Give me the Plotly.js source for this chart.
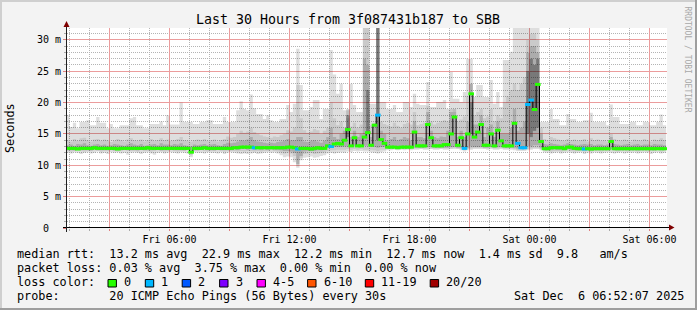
<!DOCTYPE html>
<html><head><meta charset="utf-8">
<script src="https://cdn.plot.ly/plotly-3.0.1.min.js"></script>
<style>html,body{margin:0;padding:0;background:#f3f3f3}</style>
</head><body><div id="chart" style="width:697px;height:310px"></div>
<script>
// ---------- DATA (10-minute steps starting Fri 2025-12-05 00:50) ----------
const stepStart = '2025-12-05T00:50:00Z';
const stepMinutes = 10;

const median = [
12.7,12.7,12.7,12.6,12.7,12.7,12.7,12.7,12.8,12.7,
12.7,12.7,12.7,12.7,12.7,12.6,12.7,12.7,12.7,12.7,
12.7,12.7,12.7,12.7,12.8,12.7,12.7,12.7,12.7,12.7,
12.7,12.7,12.7,12.7,12.7,12.7,12.7,12.1,12.7,12.7,
12.7,12.8,12.7,12.7,12.7,12.7,12.7,12.7,12.7,12.7,
12.8,12.8,12.9,12.9,12.9,12.9,12.8,12.8,12.8,12.8,
12.8,12.8,12.8,12.8,12.8,12.8,12.9,12.9,12.8,12.6,
12.7,12.7,12.7,12.6,12.7,12.8,12.7,12.7,13.1,13.0,
13.4,13.5,13.4,14.0,15.7,13.1,14.4,13.1,13.1,14.5,
15.2,13.2,16.4,18.0,14.1,13.5,12.9,12.9,12.9,12.8,
12.9,12.9,12.9,12.9,15.3,13.1,13.1,13.1,16.5,14.4,
13.1,13.1,13.1,13.3,13.3,15.0,17.7,13.2,14.4,12.7,
15.0,21.4,14.5,15.3,16.5,13.2,13.2,15.0,13.1,15.6,
13.9,13.1,13.1,13.1,16.7,13.5,12.8,12.8,19.7,20.4,
18.9,22.9,13.8,12.65,12.65,12.8,12.8,12.8,12.8,12.65,
12.9,12.9,12.7,12.65,12.65,12.6,12.65,12.6,12.65,12.65,
12.65,12.65,12.65,13.8,12.65,12.65,12.65,12.65,12.65,12.65,
12.65,12.65,12.65,12.65,12.65,12.65,12.65,12.65,12.65,12.65];

const lossCount = [
0,0,0,0,0,0,0,0,0,0, 0,0,0,0,0,0,0,0,0,0,
0,0,0,0,0,0,0,0,0,0, 0,0,0,0,0,0,0,0,0,0,
0,0,0,0,0,0,0,0,0,0, 0,0,0,0,0,0,1,0,0,0,
0,0,0,0,0,0,0,0,0,1, 0,0,0,0,0,0,0,0,0,1,
0,0,0,0,0,0,0,0,0,0, 0,0,0,1,0,0,0,0,0,0,
0,0,0,0,0,0,0,0,0,0, 0,0,0,0,0,0,0,0,0,1,
0,0,0,0,0,0,0,0,0,0, 0,0,0,0,0,1,1,1,1,1,
0,0,0,0,0,0,0,0,0,0, 0,0,0,0,0,1,0,0,0,0,
0,0,0,0,0,0,0,0,0,0, 0,0,0,0,0,0,0,0,0,0];

// smoke: outer (min..max), middle, inner bands
const smokeMin = [
12.0,11.9,12.1,12.0,11.8,12.0,12.1,11.9,12.0,12.2,
11.9,12.0,11.8,12.1,12.0,12.1,11.9,12.0,11.7,12.0,
12.1,12.0,11.8,12.0,12.1,11.9,11.7,12.0,12.1,11.9,
12.0,12.1,12.0,11.9,12.1,12.0,11.9,11.3,12.1,12.0,
12.0,11.9,12.1,12.0,12.0,11.9,12.1,11.8,12.0,12.1,
12.0,11.9,11.8,11.9,11.8,11.9,12.0,11.8,11.9,12.0,
12.1,12.0,12.1,11.9,11.6,11.3,11.4,11.3,10.5,9.6,
10.8,11.2,11.3,11.4,11.2,11.3,11.5,11.6,11.9,12.0,
11.9,12.0,12.1,12.0,12.2,12.1,12.3,12.2,12.3,12.2,
12.2,12.1,12.0,11.9,12.1,12.2,12.4,12.4,12.5,12.4,
12.5,12.4,12.5,12.4,12.5,12.5,12.6,12.5,12.5,12.6,
12.5,12.5,12.6,12.5,12.5,12.6,12.6,12.6,12.4,12.2,
12.4,12.5,12.6,12.6,12.6,12.6,12.5,12.6,12.5,12.5,
12.6,12.5,12.5,12.5,12.4,12.3,12.3,12.3,12.4,12.5,
12.6,12.6,12.4,12.1,12.0,11.9,12.0,12.1,11.9,12.0,
12.1,12.0,11.9,12.0,12.1,11.8,12.0,11.9,12.1,12.0,
11.9,12.0,12.1,12.0,11.9,12.0,12.1,11.9,12.0,12.0,
12.1,11.9,12.0,12.1,12.0,11.8,12.0,12.1,11.9,12.0];

const smokeMax = [
18.0,16.1,16.8,15.9,16.9,16.9,17.2,16.4,16.4,17.7,
16.8,16.8,15.9,16.6,15.9,15.9,16.4,16.4,16.4,17.5,
17.7,16.4,16.4,15.9,15.9,16.6,16.6,16.6,17.0,16.4,
18.0,16.5,16.5,16.5,20.0,16.9,16.9,16.9,16.6,16.6,
16.9,16.9,17.2,17.2,16.6,16.6,16.6,17.7,16.9,16.9,
16.9,18.8,20.2,19.0,18.8,21.3,19.1,18.2,18.2,17.4,
18.0,17.2,16.9,16.9,17.4,17.4,19.6,18.5,19.8,28.6,
22.8,18.8,18.8,19.3,20.4,20.4,17.4,19.0,19.0,28.4,
24.5,21.4,23.0,18.8,18.8,23.0,19.6,18.5,18.5,33,
33,19.8,19.8,33,20.1,20.1,19.0,19.0,19.6,18.5,
18.5,20.1,20.1,19.3,21.4,19.8,19.6,19.6,23.3,19.3,
19.3,20.1,20.1,20.4,19.0,24.9,20.6,20.6,20.1,21.7,
27.0,27.0,20.9,22.8,22.8,20.9,20.9,23.6,19.8,21.7,
19.3,26.8,26.8,28.1,33,33,33,33,33,33,
33,33,16.9,16.9,16.9,19.0,17.4,17.4,16.4,16.4,
18.2,17.4,17.4,16.9,16.9,17.2,17.2,18.4,16.9,16.9,
16.9,16.9,16.4,19.7,17.7,17.7,16.6,16.6,16.6,16.9,
16.9,16.4,16.4,16.9,16.9,16.4,16.4,16.9,18.1,16.4];

const smokeMidLo = [
12.3,12.2,12.3,12.4,12.3,12.2,12.3,12.3,12.4,12.3,
12.2,12.3,12.3,12.4,12.3,12.2,12.3,12.4,12.3,12.3,
12.3,12.2,12.4,12.3,12.3,12.2,12.3,12.4,12.3,12.2,
12.3,12.4,12.3,12.2,12.3,12.3,12.4,11.6,12.3,12.3,
12.4,12.3,12.2,12.3,12.3,12.4,12.3,12.2,12.3,12.3,
12.3,12.2,12.3,12.2,12.3,12.3,12.2,12.3,12.2,12.3,
12.3,12.4,12.3,12.2,12.1,11.9,12.0,11.9,11.5,10.0,
11.2,11.8,11.9,12.0,11.8,11.9,12.0,12.1,12.3,12.4,
12.4,12.5,12.5,12.5,12.6,12.5,12.6,12.5,12.6,12.5,
12.5,12.5,12.4,12.3,12.5,12.5,12.6,12.6,12.7,12.6,
12.7,12.6,12.7,12.6,12.7,12.7,12.7,12.7,12.7,12.7,
12.7,12.7,12.7,12.7,12.7,12.7,12.8,12.7,12.6,12.5,
12.6,12.7,12.8,12.8,12.8,12.7,12.7,12.8,12.7,12.7,
12.8,12.7,12.7,12.7,12.6,12.5,12.5,12.5,12.6,12.7,
12.8,12.8,12.6,12.3,12.3,12.2,12.3,12.3,12.2,12.3,
12.4,12.3,12.2,12.3,12.3,12.2,12.3,12.2,12.3,12.3,
12.2,12.3,12.3,12.4,12.3,12.2,12.3,12.3,12.2,12.3,
12.3,12.2,12.3,12.3,12.2,12.3,12.3,12.4,12.2,12.3];

const smokeMidHi = [
14.0,13.8,14.2,13.9,14.3,14.4,14.0,13.8,14.1,14.2,
13.9,14.1,14.0,13.7,13.9,14.2,14.0,13.8,14.1,14.3,
14.0,13.9,14.1,13.8,14.0,14.2,13.9,14.0,14.3,14.0,
14.1,13.9,14.0,14.2,14.5,14.0,13.9,13.8,14.0,14.1,
14.0,14.2,13.9,14.0,14.1,13.8,14.0,14.2,14.6,14.4,
14.5,15.0,15.5,15.2,15.4,16.0,15.3,15.0,14.8,14.6,
14.5,14.4,14.6,14.5,14.8,15.0,15.6,15.4,16.0,22.8,
17.5,15.6,15.2,15.4,15.8,15.6,15.0,15.5,16.0,20.0,
17.5,16.4,17.0,16.0,17.5,16.2,16.8,16.0,16.5,33,
33,16.4,16.8,33,17.0,16.6,16.4,16.2,16.8,16.3,
16.0,16.6,16.8,16.5,18.5,16.4,16.6,16.8,19.5,17.0,
16.5,16.8,17.0,17.2,17.0,19.0,18.5,17.0,17.3,17.8,
21.0,23.0,18.0,18.5,19.0,17.5,17.8,19.0,17.0,18.0,
17.5,20.0,21.0,22.0,23.0,22.0,23.0,24.0,30.0,31.0,
31.0,30.0,16.0,14.2,14.0,14.5,14.3,14.1,14.0,13.9,
14.2,14.0,14.1,13.9,14.0,14.2,13.8,14.3,14.0,14.1,
13.9,14.0,13.8,15.0,14.2,14.0,13.9,14.1,14.0,13.8,
14.1,14.0,13.9,14.2,14.0,13.8,14.1,14.0,14.3,14.0];

const smokeCoreLo = [
12.5,12.5,12.4,12.5,12.6,12.5,12.5,12.4,12.5,12.5,
12.5,12.6,12.5,12.5,12.4,12.5,12.5,12.5,12.6,12.5,
12.5,12.4,12.5,12.5,12.5,12.6,12.5,12.5,12.4,12.5,
12.5,12.5,12.6,12.5,12.5,12.4,12.5,11.9,12.5,12.5,
12.5,12.6,12.5,12.5,12.4,12.5,12.5,12.5,12.6,12.5,
12.6,12.5,12.6,12.6,12.5,12.6,12.5,12.6,12.5,12.6,
12.5,12.6,12.5,12.5,12.4,12.3,12.3,12.2,12.0,10.2,
11.5,12.2,12.3,12.3,12.3,12.4,12.4,12.5,12.8,12.8,
12.9,12.9,12.9,13.0,13.0,12.9,13.0,12.9,12.9,13.1,
13.1,12.9,12.9,12.8,12.9,12.9,12.7,12.7,12.7,12.7,
12.7,12.7,12.7,12.7,12.8,12.8,12.8,12.8,12.9,12.9,
12.8,12.8,12.8,12.8,12.8,12.9,12.9,12.8,12.8,12.6,
12.8,13.0,12.9,12.9,12.9,12.8,12.8,12.9,12.8,12.9,
12.9,12.8,12.8,12.8,12.8,12.7,12.6,12.6,13.0,13.0,
13.2,13.2,12.8,12.5,12.5,12.5,12.6,12.5,12.5,12.5,
12.6,12.5,12.5,12.4,12.5,12.5,12.5,12.4,12.5,12.5,
12.5,12.5,12.5,12.6,12.5,12.4,12.5,12.5,12.5,12.5,
12.5,12.4,12.5,12.5,12.5,12.5,12.4,12.5,12.5,12.5];

const smokeCoreHi = [
13.2,13.3,13.1,13.4,13.3,13.5,13.2,13.1,13.3,13.4,
13.2,13.3,13.1,13.2,13.4,13.3,13.2,13.1,13.3,13.5,
13.3,13.2,13.4,13.1,13.2,13.3,13.4,13.2,13.5,13.3,
13.3,13.2,13.4,13.3,13.5,13.2,13.1,13.0,13.3,13.2,
13.3,13.4,13.2,13.3,13.4,13.2,13.1,13.4,13.6,13.5,
13.6,13.8,14.0,13.9,14.1,14.5,14.0,13.8,13.7,13.6,
13.5,13.6,13.5,13.7,13.8,13.9,14.2,14.0,14.0,14.5,
14.5,13.8,13.7,13.9,14.0,13.8,13.6,13.9,14.5,16.0,
14.5,14.2,15.0,15.5,19.0,14.5,15.5,14.5,15.0,27.0,
26.0,14.5,16.5,33,15.5,15.0,14.0,14.2,14.5,14.0,
14.2,14.5,14.3,14.0,17.0,14.5,14.5,14.3,18.5,15.5,
14.5,14.3,14.6,14.5,15.5,18.5,19.0,14.5,15.5,14.5,
17.0,23.0,16.5,16.5,18.0,14.5,16.0,16.5,14.5,17.0,
15.0,15.0,15.0,16.0,19.0,15.5,16.0,17.0,28.0,29.0,
29.0,28.0,15.0,13.4,13.3,13.5,13.4,13.3,13.2,13.3,
13.5,13.4,13.3,13.2,13.3,13.4,13.3,13.4,13.2,13.3,
13.3,13.2,13.3,14.5,13.4,13.3,13.2,13.3,13.4,13.2,
13.3,13.4,13.2,13.3,13.3,13.2,13.4,13.3,13.3,13.2];

// darkest smoke columns (sparse)
const darkStep = [84, 90, 93, 121, 138, 139, 140, 141];
const darkLo   = [14.5, 15.0, 14.0, 15.0, 15.0, 14.5, 15.5, 16.0];
const darkHi   = [18.0, 22.0, 33, 20.0, 25.0, 27.0, 26.0, 27.0];

const xTickVals = ['2025-12-05 03:00','2025-12-05 06:00','2025-12-05 09:00','2025-12-05 12:00','2025-12-05 15:00',
                   '2025-12-05 18:00','2025-12-05 21:00','2025-12-06 00:00','2025-12-06 03:00','2025-12-06 06:00'];
const xTickText = ['','Fri 06:00','','Fri 12:00','','Fri 18:00','','Sat 00:00','','Sat 06:00'];
const yTickVals = [0,5,10,15,20,25,30];
const yTickText = ['0\u00a0\u00a0','5 m','10 m','15 m','20 m','25 m','30 m'];

const lossLabels = ['0','1','2','3','4-5','6-10','11-19','20/20'];
const lossColors = ['#26ff00','#00b8ff','#0059ff','#7e00ff','#ff00ff','#ff5500','#ff0000','#a10000'];

const titleText = 'Last 30 Hours from 3f087431b187 to SBB';
const legendLine1 = 'median rtt:  13.2 ms avg  22.9 ms max  12.2 ms min  12.7 ms now  1.4 ms sd  9.8   am/s';
const legendLine2 = 'packet loss: 0.03 % avg  3.75 % max  0.00 % min  0.00 % now';
const legendLine3 = 'loss color:';
const legendLine4 = 'probe:       20 ICMP Echo Pings (56 Bytes) every 30s';
const dateText = 'Sat Dec  6 06:52:07 2025';

// ---------- BUILD ----------
const MONO = 'DejaVu Sans Mono';
const STEP = stepMinutes * 60000;
const T0 = Date.parse(stepStart);
const fmt = ms => new Date(ms).toISOString().slice(0,19).replace('T',' ');
const n = median.length;
const tEdge = [], tMid = [];
for (let i = 0; i <= n; i++) tEdge.push(fmt(T0 + i*STEP));
for (let i = 0; i < n; i++) tMid.push(fmt(T0 + i*STEP + STEP/2));
const ext = a => a.concat([a[a.length-1]]);

// minor grid positions: every hour / every 1 ms, skipping the major (3 h / 5 ms) lines
const HOUR = 3600000;
const gridStart = Date.parse('2025-12-05T01:00:00Z');
const xMinorVals = [];
for (let k = 0; k < 30; k++) { if ((k + 1) % 3 !== 0) xMinorVals.push(fmt(gridStart + k*HOUR)); }
const yMinorVals = [];
for (let v = 1; v <= 31; v++) { if (v % 5 !== 0) yMinorVals.push(v); }

function band(lo, hi, color) {
  return [
    {x: tEdge, y: ext(lo), type:'scatter', mode:'lines', line:{width:0, shape:'hv'}, hoverinfo:'skip', showlegend:false},
    {x: tEdge, y: ext(hi), type:'scatter', mode:'lines', line:{width:0, shape:'hv'}, fill:'tonexty', fillcolor:color, hoverinfo:'skip', showlegend:false}
  ];
}

const data = [].concat(
  band(smokeMin, smokeMax, 'rgba(0,0,0,0.13)'),
  band(smokeMidLo, smokeMidHi, 'rgba(0,0,0,0.09)'),
  band(smokeCoreLo, smokeCoreHi, 'rgba(0,0,0,0.15)'),
  [{
    type:'bar', x: darkStep.map(i => tMid[i]), base: darkLo,
    y: darkHi.map((h, k) => h - darkLo[k]), width: STEP,
    marker:{color:'rgba(0,0,0,0.3)', line:{width:0}}, hoverinfo:'skip', showlegend:false
  },
  {
    x: tEdge, y: ext(median), type:'scatter', mode:'lines',
    line:{color:'#000000', width:1, shape:'hv'}, hoverinfo:'skip', showlegend:false
  },
  {
    x: tMid, y: median, type:'scatter', mode:'markers',
    marker:{symbol:'line-ew', size:4, line:{width:3, color: lossCount.map(l => lossColors[l])}},
    hoverinfo:'skip', showlegend:false
  }]
);

// pixel -> paper helpers (plot area: x 67..667, y 28..228)
const X = px => (px - 67) / 600;
const Y = py => (228 - py) / 200;
const shapes = [];
const gridDash = '1px,1px';
const MAJOR = '#eb9c9c';

function rectPx(x0, y0, x1, y1, fill, line) {
  shapes.push({type:'rect', xref:'paper', yref:'paper', x0:X(x0), x1:X(x1), y0:Y(y1), y1:Y(y0),
               fillcolor:fill, line: line || {width:0}, layer:'above'});
}
// frame
rectPx(0, 0, 697, 2, '#cfcfcf');
rectPx(0, 0, 2, 310, '#cfcfcf');
rectPx(695, 0, 697, 310, '#9e9e9e');
rectPx(0, 308, 697, 310, '#9e9e9e');
// axes
shapes.push({type:'line', xref:'paper', yref:'paper', x0:X(63), x1:X(670), y0:Y(227.5), y1:Y(227.5), line:{color:'#000000', width:1}, layer:'above'});
shapes.push({type:'line', xref:'paper', yref:'paper', x0:X(66.5), x1:X(66.5), y0:Y(232), y1:Y(24), line:{color:'#1f1f1f', width:1}, layer:'above'});
shapes.push({type:'path', xref:'paper', yref:'paper',
  path:`M ${X(669)},${Y(224.5)} L ${X(674.5)},${Y(227.5)} L ${X(669)},${Y(230.5)} Z`, fillcolor:'#7f0000', line:{width:0}, layer:'above'});
shapes.push({type:'path', xref:'paper', yref:'paper',
  path:`M ${X(63.5)},${Y(27)} L ${X(66.5)},${Y(21)} L ${X(69.5)},${Y(27)} Z`, fillcolor:'#7f0000', line:{width:0}, layer:'above'});

const annotations = [];
const nb = s => s.replace(/ /g, '\u00a0');
function textPx(px, py, text, size, extra) {
  annotations.push(Object.assign({xref:'paper', yref:'paper', x:X(px), y:Y(py), text:nb(text), showarrow:false,
    xanchor:'left', yanchor:'middle', borderpad:0, font:{family:MONO, size:size, color:'#000000'}}, extra || {}));
}
const LF = 11.8;
textPx(15.6, 254, legendLine1, LF);
textPx(15.6, 268, legendLine2, LF);
textPx(15.6, 282, legendLine3, LF);
textPx(15.6, 296, legendLine4, LF);
textPx(513, 296, dateText, LF);
const boxX = [108, 145.3, 182.2, 219.6, 257, 307.6, 365.3, 430.2];
boxX.forEach((bx, k) => {
  rectPx(bx, 279.5, bx + 8.4, 287, lossColors[k], {color:'#000000', width:1});
  textPx(bx + 15, 282, lossLabels[k], LF);
});
// y axis title
textPx(10, 128, 'Seconds', LF, {xanchor:'center', textangle:-90});
// watermark
textPx(687.5, 59, 'RRDTOOL / TOBI OETIKER', 8, {xanchor:'center', textangle:90, font:{family:MONO, size:8, color:'#a8a8a8'}});

const layout = {
  width:697, height:310,
  margin:{l:67, r:30, t:28, b:82, pad:0},
  paper_bgcolor:'#f3f3f3', plot_bgcolor:'#ffffff',
  showlegend:false, barmode:'overlay',
  font:{family:MONO, size:10, color:'#000000'},
  title:{text:titleText, font:{family:MONO, size:13.3, color:'#000000'},
         x:348/697, xref:'container', xanchor:'center', y:1-19/310, yref:'container', yanchor:'middle'},
  xaxis:{type:'date', range:['2025-12-05 00:52:30','2025-12-06 06:52:30'],
         tickmode:'array', tickvals:xTickVals, ticktext:xTickText,
         showgrid:true, gridcolor:MAJOR, gridwidth:1, griddash:'solid',
         ticks:'outside', ticklen:2, tickcolor:'#e08080',
         zeroline:false, showline:false, tickfont:{family:MONO, size:10, color:'#000000'},
         minor:{tickmode:'array', tickvals:xMinorVals, showgrid:true, gridcolor:'#b4b4b4', griddash:gridDash,
                ticks:'outside', ticklen:2, tickcolor:'#aaaaaa'},
         fixedrange:true},
  yaxis:{range:[0, 31.9], tickmode:'array', tickvals:yTickVals, ticktext:yTickText,
         showgrid:true, gridcolor:MAJOR, gridwidth:1, griddash:'solid',
         ticks:'outside', ticklen:3, tickcolor:'#e08080',
         zeroline:false, showline:false, tickfont:{family:MONO, size:10, color:'#000000'},
         minor:{tickmode:'array', tickvals:yMinorVals, showgrid:true, gridcolor:'#b4b4b4', griddash:gridDash,
                ticks:'outside', ticklen:2, tickcolor:'#aaaaaa'},
         fixedrange:true},
  shapes: shapes,
  annotations: annotations
};

Plotly.newPlot('chart', data, layout, {staticPlot:true, displayModeBar:false});
</script>
</body></html>
